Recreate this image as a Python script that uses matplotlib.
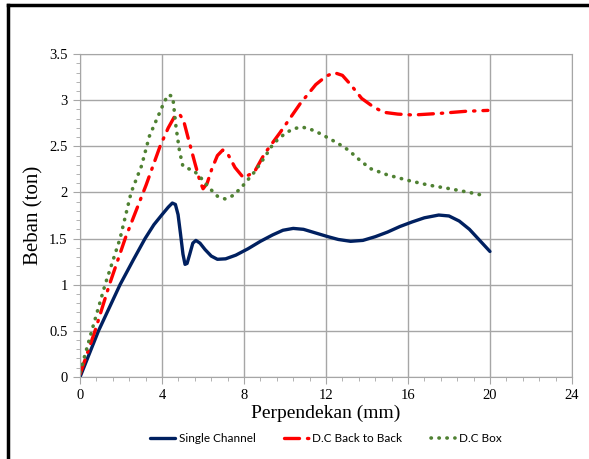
import numpy as np
import matplotlib
matplotlib.use("Agg")
import matplotlib.pyplot as plt
from matplotlib.lines import Line2D
from matplotlib.ticker import MultipleLocator

# Data
single_x = [0, 0.9, 1.95, 2.6, 3.17, 3.6, 4.0, 4.3, 4.5, 4.65, 4.78, 4.9, 5.02, 5.12, 5.22, 5.35, 5.5, 5.65,
            5.85, 6.1, 6.4, 6.7, 7.1, 7.6, 8.2, 8.8, 9.4, 9.9, 10.4, 10.9, 11.5, 12.1, 12.6, 13.2, 13.8,
            14.4, 15.0, 15.6, 16.2, 16.8, 17.5, 18.0, 18.5, 19.0, 19.5, 20.0]
single_y = [0, 0.5, 1.0, 1.27, 1.5, 1.65, 1.76, 1.84, 1.885, 1.87, 1.76, 1.55, 1.33, 1.22, 1.23, 1.33, 1.45, 1.48,
            1.45, 1.38, 1.31, 1.275, 1.28, 1.32, 1.39, 1.47, 1.54, 1.59, 1.61, 1.6, 1.56, 1.52, 1.49, 1.47, 1.48,
            1.52, 1.57, 1.63, 1.68, 1.725, 1.755, 1.745, 1.69, 1.6, 1.48, 1.36]

b2b_x = [0, 0.73, 1.43, 2.2, 3.22, 3.9, 4.3, 4.6, 4.85, 5.05, 5.25, 5.6, 5.85, 6.0, 6.2, 6.42, 6.7, 6.96,
         7.2, 7.56, 7.97, 8.5, 9.0, 9.76, 10.73, 11.5, 12.0, 12.4, 12.8, 13.2, 13.74, 14.3, 14.8, 15.5,
         16.26, 17.0, 17.7, 18.8, 19.9]
b2b_y = [0.03, 0.5, 1.0, 1.5, 2.08, 2.5, 2.7, 2.82, 2.85, 2.78, 2.61, 2.32, 2.12, 2.04, 2.1, 2.25, 2.4, 2.46,
         2.42, 2.27, 2.16, 2.22, 2.42, 2.65, 2.96, 3.17, 3.26, 3.30, 3.27, 3.17, 3.02, 2.93, 2.87, 2.85,
         2.84, 2.85, 2.86, 2.88, 2.89]

box_x = [0, 0.57, 1.22, 1.95, 2.49, 3.0, 3.38, 3.87, 4.1, 4.31, 4.52, 4.68, 4.85, 5.01, 5.25, 5.53, 5.85,
         6.3, 6.7, 7.07, 7.5, 7.97, 8.5, 9.0, 9.43, 10.0, 10.4, 10.81, 11.2, 11.7, 12.2, 12.6, 13.09,
         13.6, 14.15, 15.0, 16.02, 17.0, 18.05, 19.0, 19.84]
box_y = [0.05, 0.5, 1.0, 1.5, 2.0, 2.29, 2.61, 2.86, 2.98, 3.06, 3.04, 2.71, 2.45, 2.29, 2.26, 2.24, 2.17,
         2.05, 1.96, 1.93, 1.97, 2.08, 2.22, 2.38, 2.53, 2.64, 2.69, 2.71, 2.69, 2.64, 2.58, 2.53, 2.46,
         2.36, 2.26, 2.19, 2.13, 2.08, 2.04, 2.0, 1.96]

fig = plt.figure(figsize=(5.89, 4.59), dpi=100)
ax = fig.add_axes([0.136, 0.179, 0.835, 0.703])

ax.plot(single_x, single_y, color="#002060", lw=2.4, solid_joinstyle="round",
        solid_capstyle="round", label="Single Channel")
ax.plot(b2b_x, b2b_y, color="#ff0000", lw=2.4, dashes=(4.5, 2.4, 0.4, 2.4),
        dash_capstyle="round", label="D.C Back to Back")
ax.plot(box_x, box_y, color="#4f8132", lw=2.6, dashes=(0.1, 2.1),
        dash_capstyle="round", label="D.C Box")

ax.set_xlim(0, 24)
ax.set_ylim(0, 3.5)
ax.xaxis.set_major_locator(MultipleLocator(4))
ax.xaxis.set_minor_locator(MultipleLocator(0.8))
ax.yaxis.set_major_locator(MultipleLocator(0.5))
ax.yaxis.set_minor_locator(MultipleLocator(0.1))
ax.yaxis.set_major_formatter(matplotlib.ticker.FuncFormatter(lambda v, p: f"{v:g}"))

ax.grid(True, which="major", color="#a6a6a6", lw=1)
ax.set_axisbelow(True)
for s in ax.spines.values():
    s.set_color("#a6a6a6")
ax.tick_params(which="both", color="#a6a6a6", direction="out")
ax.tick_params(which="major", length=5, labelsize=10.5, pad=4)
ax.tick_params(which="minor", length=3)
for lab in ax.get_xticklabels() + ax.get_yticklabels():
    lab.set_fontfamily("Liberation Serif")

ax.set_xlabel("Perpendekan (mm)", fontfamily="Liberation Serif", fontsize=14, labelpad=2)
ax.set_ylabel("Beban (ton)", fontfamily="Liberation Serif", fontsize=15, labelpad=4)

leg = ax.legend(loc="upper center", bbox_to_anchor=(0.5, -0.14), ncol=3, frameon=False,
                prop={"family": "Lato", "size": 8.5}, handlelength=2.1, columnspacing=2.4,
                handletextpad=0.3)

# black frame around the chart (left and top edges visible)
fig.add_artist(Line2D([0.0136, 0.0136], [0, 0.989], color="black", lw=2.5))
fig.add_artist(Line2D([0.0136, 1.0], [0.989, 0.989], color="black", lw=2.5))

fig.savefig("out.png", dpi=100)
